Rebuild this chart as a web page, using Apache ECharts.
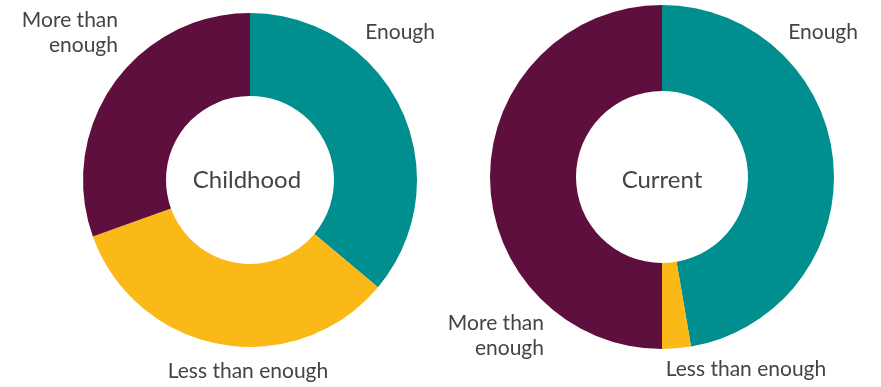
<!DOCTYPE html>
<html>
<head>
<meta charset="utf-8">
<script src="https://cdn.jsdelivr.net/npm/echarts@6/dist/echarts.min.js"></script>
<style>
  html, body { margin: 0; padding: 0; background: #fff; }
  #chart { width: 881px; height: 387px; }
</style>
</head>
<body>
<div id="chart"></div>
<script>
// categories and values (percent of respondents)
const categories = ['Enough', 'Less than enough', 'More than enough'];
const labelTexts = ['Enough', 'Less than enough', 'More than\nenough'];
const childhoodValues = [36.1, 33.4, 30.5];
const currentValues = [47.3, 2.7, 50.0];
const panelNames = ['Childhood', 'Current'];
const colors = ['#008E8E', '#FBB917', '#5E0F3E'];

// where each outside label sits, per panel and slice
const labelSpots = [
    [{ x: 435, y: 32, align: 'right' }, { x: 248, y: 371, align: 'center' }, { x: 118, y: 33, align: 'right' }],
    [{ x: 858, y: 32, align: 'right' }, { x: 746, y: 369, align: 'center' }, { x: 544, y: 336, align: 'right' }]
];

const chart = echarts.init(document.getElementById('chart'));

function buildSeries(panel, values, center, radius) {
    return {
        type: 'pie',
        center: center,
        radius: radius,
        startAngle: 90,
        clockwise: true,
        silent: true,
        animation: false,
        color: colors,
        itemStyle: { borderWidth: 0 },
        label: {
            show: true,
            position: 'outside',
            overflow: 'none',
            formatter: function (p) { return labelTexts[p.dataIndex]; },
            fontFamily: 'Lato',
            fontSize: 21,
            lineHeight: 25,
            color: '#444444'
        },
        labelLine: { show: false },
        labelLayout: function (params) {
            const spot = labelSpots[panel][params.dataIndex];
            return { x: spot.x, y: spot.y, align: spot.align, verticalAlign: 'middle', hideOverlap: false };
        },
        data: categories.map(function (name, i) {
            return { name: name, value: values[i] };
        })
    };
}

function centerText(text, x, y) {
    return {
        type: 'text',
        x: x,
        y: y,
        silent: true,
        style: {
            text: text,
            align: 'center',
            verticalAlign: 'middle',
            fontFamily: 'Lato',
            fontSize: 24,
            fill: '#444444'
        }
    };
}

const options = {
    backgroundColor: '#ffffff',
    graphic: [
        centerText(panelNames[0], 247, 180),
        centerText(panelNames[1], 662, 180)
    ],
    series: [
        buildSeries(0, childhoodValues, [250, 180], [84, 167]),
        buildSeries(1, currentValues, [662, 177], [86, 172])
    ]
};
chart.setOption(options);
</script>
</body>
</html>
